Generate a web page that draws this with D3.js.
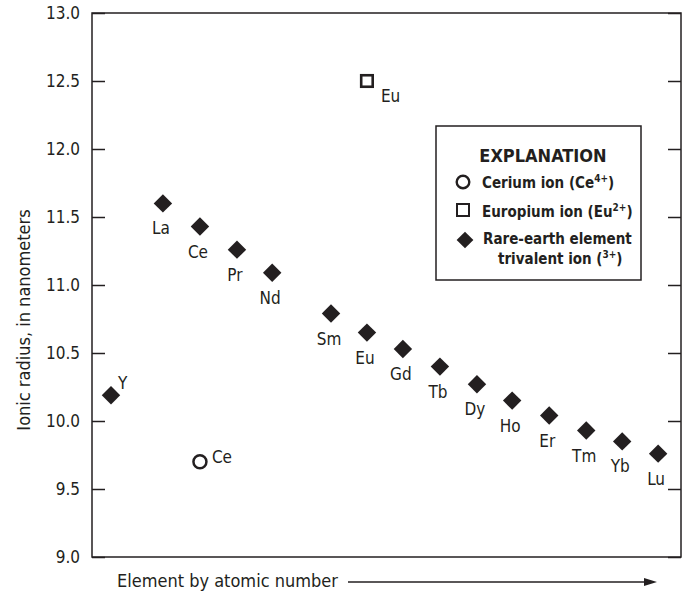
<!DOCTYPE html>
<html>
<head>
<meta charset="utf-8">
<script src="https://cdn.jsdelivr.net/npm/d3@7"></script>
<style>
  body { margin: 0; background: #fff; }
  svg { display: block; }
  text { font-family: "Liberation Sans Narrow", "Arial Narrow", "DejaVu Sans Condensed", sans-serif; fill: #231f20; }
</style>
</head>
<body>
<svg id="chart" width="687" height="597"></svg>
<script>
// trivalent ions
var elements = ["Y", "La", "Ce", "Pr", "Nd", "Sm", "Eu", "Gd", "Tb", "Dy", "Ho", "Er", "Tm", "Yb", "Lu"];
// slot along the x axis (element order, as spaced in the figure)
var slots = [0, 1.43, 2.45, 3.47, 4.44, 6.06, 7.05, 8.04, 9.06, 10.08, 11.05, 12.07, 13.09, 14.08, 15.07];
var radii = [10.19, 11.60, 11.43, 11.26, 11.09, 10.79, 10.65, 10.53, 10.40, 10.27, 10.15, 10.04, 9.93, 9.85, 9.76];

// other valence states
var ceriumIon = {name: "Ce", slot: 2.45, radius: 9.70};
var europiumIon = {name: "Eu", slot: 7.05, radius: 12.50};

var yTicks = [9.0, 9.5, 10.0, 10.5, 11.0, 11.5, 12.0, 12.5, 13.0];

var svg = d3.select("#chart"),
    margin = {top: 13, right: 6, bottom: 40, left: 92},
    width = +svg.attr("width") - margin.left - margin.right,
    height = +svg.attr("height") - margin.top - margin.bottom,
    ink = "#231f20";

var x = d3.scaleLinear().domain([-0.523, 15.70]).range([0, width]),
    y = d3.scaleLinear().domain([9, 13]).range([height, 0]);

var g = svg.append("g").attr("transform", "translate(" + margin.left + "," + margin.top + ")");

// frame
g.append("rect")
    .attr("width", width).attr("height", height)
    .attr("fill", "none").attr("stroke", ink).attr("stroke-width", 1.5);

// left axis, ticks pointing in
var left = g.append("g")
    .call(d3.axisLeft(y).tickValues(yTicks).tickFormat(d3.format(".1f")).tickSizeInner(-13).tickSizeOuter(0).tickPadding(12));
left.select(".domain").remove();
left.selectAll("line").attr("stroke", ink).attr("stroke-width", 1.5);
left.selectAll("text").attr("font-size", 17).attr("fill", ink)
    .style("font-family", "'Liberation Sans Narrow', 'Arial Narrow', 'DejaVu Sans Condensed', sans-serif");

// right ticks
var right = g.append("g").attr("transform", "translate(" + width + ",0)")
    .call(d3.axisRight(y).tickValues(yTicks).tickSizeInner(-13).tickSizeOuter(0).tickFormat(""));
right.select(".domain").remove();
right.selectAll("line").attr("stroke", ink).attr("stroke-width", 1.5);

// axis titles
svg.append("text")
    .attr("transform", "translate(30,320) rotate(-90)")
    .attr("text-anchor", "middle")
    .attr("font-size", 18)
    .text("Ionic radius, in nanometers");

var bottomY = margin.top + height + 27;
svg.append("text")
    .attr("x", 117).attr("y", bottomY + 3)
    .attr("font-size", 18)
    .text("Element by atomic number");
svg.append("line")
    .attr("x1", 348).attr("x2", 648)
    .attr("y1", bottomY - 2).attr("y2", bottomY - 2)
    .attr("stroke", ink).attr("stroke-width", 1.5);
svg.append("path")
    .attr("d", "M644," + (bottomY - 6) + "L657," + (bottomY - 2) + "L644," + (bottomY + 2) + "Z")
    .attr("fill", ink);

// trivalent diamonds
var points = elements.map(function(d, i){ return {name: d, slot: slots[i], radius: radii[i]}; });
var diamond = d3.symbol().type(d3.symbolSquare).size(170);

g.selectAll(".pt").data(points).enter().append("path")
    .attr("class", "pt")
    .attr("d", diamond)
    .attr("transform", function(d){ return "translate(" + x(d.slot) + "," + y(d.radius) + ") rotate(45)"; })
    .attr("fill", ink);

g.selectAll(".lbl").data(points).enter().append("text")
    .attr("class", "lbl")
    .attr("x", function(d){ return d.name == "Y" ? x(d.slot) + 7 : x(d.slot) - 2; })
    .attr("y", function(d){ return d.name == "Y" ? y(d.radius) - 6 : y(d.radius) + 31; })
    .attr("text-anchor", function(d){ return d.name == "Y" ? "start" : "middle"; })
    .attr("font-size", 17)
    .text(function(d){ return d.name; });

// Ce4+ circle
g.append("circle")
    .attr("cx", x(ceriumIon.slot)).attr("cy", y(ceriumIon.radius)).attr("r", 6.5)
    .attr("fill", "#fff").attr("stroke", ink).attr("stroke-width", 2.5);
g.append("text")
    .attr("x", x(ceriumIon.slot) + 12).attr("y", y(ceriumIon.radius) + 1)
    .attr("font-size", 17)
    .text(ceriumIon.name);

// Eu2+ square
g.append("rect")
    .attr("x", x(europiumIon.slot) - 5.75).attr("y", y(europiumIon.radius) - 5.75)
    .attr("width", 11.5).attr("height", 11.5)
    .attr("fill", "#fff").attr("stroke", ink).attr("stroke-width", 2.6);
g.append("text")
    .attr("x", x(europiumIon.slot) + 14).attr("y", y(europiumIon.radius) + 21)
    .attr("font-size", 17)
    .text(europiumIon.name);

// explanation box
var lg = svg.append("g");
lg.append("rect")
    .attr("x", 436).attr("y", 126).attr("width", 205).attr("height", 154)
    .attr("fill", "#fff").attr("stroke", ink).attr("stroke-width", 1.5);
lg.append("text")
    .attr("x", 543).attr("y", 162)
    .attr("text-anchor", "middle")
    .attr("font-size", 18).attr("font-weight", "bold")
    .text("EXPLANATION");

lg.append("circle")
    .attr("cx", 463).attr("cy", 182).attr("r", 6.3)
    .attr("fill", "#fff").attr("stroke", ink).attr("stroke-width", 2.4);
lg.append("rect")
    .attr("x", 457).attr("y", 204).attr("width", 12).attr("height", 12)
    .attr("fill", "#fff").attr("stroke", ink).attr("stroke-width", 2);
lg.append("path")
    .attr("d", d3.symbol().type(d3.symbolSquare).size(140))
    .attr("transform", "translate(465,240) rotate(45)")
    .attr("fill", ink);

function legendLine(xPos, yPos, parts){
    var t = lg.append("text")
        .attr("x", xPos).attr("y", yPos)
        .attr("font-size", 15).attr("font-weight", "bold");
    var raised = false;
    parts.forEach(function(p){
        var s = t.append("tspan").text(p.text);
        if (p.sup) { s.attr("dy", -6).attr("font-size", 10); raised = true; }
        else if (raised) { s.attr("dy", 6); raised = false; }
    });
}
legendLine(482, 188, [{text: "Cerium ion (Ce"}, {text: "4+", sup: true}, {text: ")"}]);
legendLine(482, 217, [{text: "Europium ion (Eu"}, {text: "2+", sup: true}, {text: ")"}]);
legendLine(483, 244, [{text: "Rare-earth element"}]);
legendLine(498, 264, [{text: "trivalent ion ("}, {text: "3+", sup: true}, {text: ")"}]);
</script>
</body>
</html>
